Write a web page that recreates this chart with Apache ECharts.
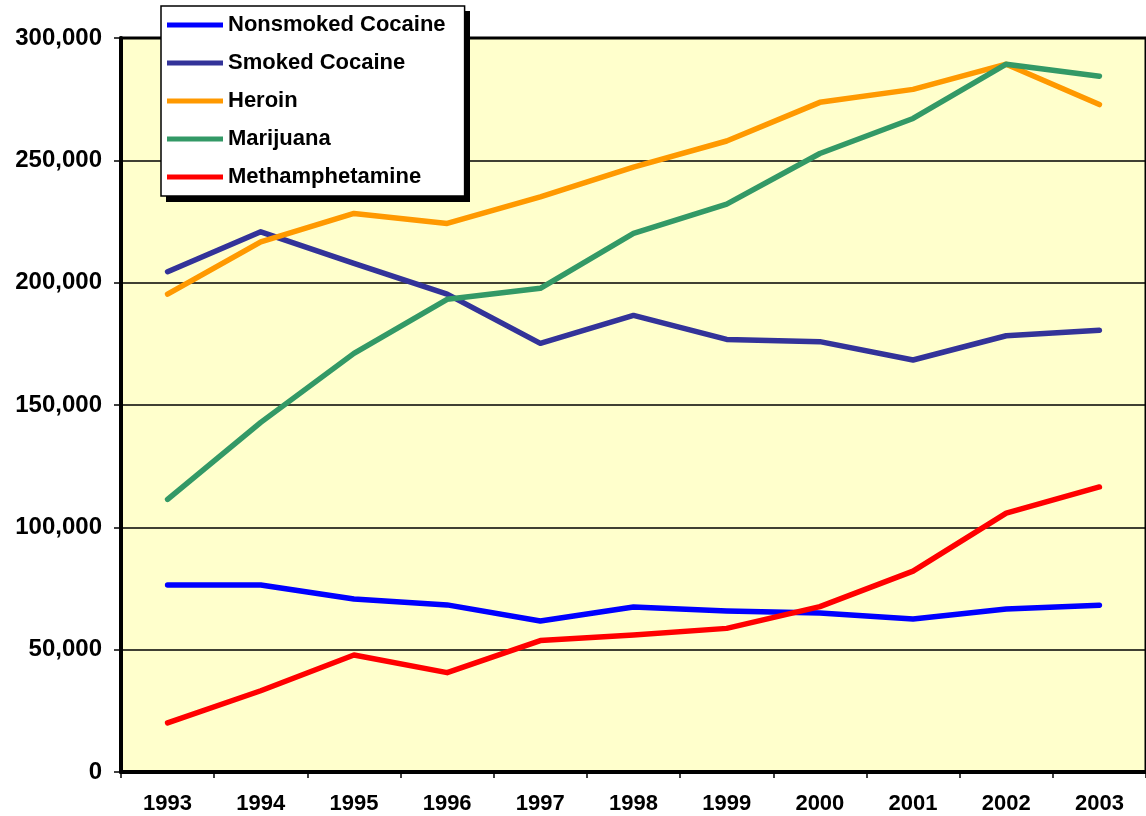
<!DOCTYPE html>
<html>
<head>
<meta charset="utf-8">
<script src="https://cdn.jsdelivr.net/npm/echarts@6/dist/echarts.min.js"></script>
<style>
  html, body { margin: 0; padding: 0; background: #fff; }
  #chart { width: 1146px; height: 816px; }
</style>
</head>
<body>
<div id="chart"></div>
<script>
// years on the x axis
var years = ['1993', '1994', '1995', '1996', '1997', '1998', '1999', '2000', '2001', '2002', '2003'];

// values
var nonsmokedCocaine = [76400, 76400, 70700, 68300, 61700, 67400, 65800, 65000, 62500, 66600, 68200];
var smokedCocaine    = [204500, 220800, 207900, 195300, 175200, 186600, 176800, 175900, 168400, 178300, 180600];
var heroin           = [195300, 216700, 228300, 224200, 235100, 247200, 257900, 273700, 279000, 289300, 272800];
var marijuana        = [111400, 142900, 171100, 193200, 197700, 220100, 232100, 252800, 267100, 289300, 284400];
var meth             = [20100, 33200, 47800, 40600, 53700, 56000, 58700, 67600, 82100, 105800, 116500];

var yTicks = { min: 0, max: 300000, step: 50000 };

var seriesNames = ['Nonsmoked Cocaine', 'Smoked Cocaine', 'Heroin', 'Marijuana', 'Methamphetamine'];
var seriesColors = ['#0000FF', '#333399', '#FF9900', '#339966', '#FF0000'];
var seriesData = [nonsmokedCocaine, smokedCocaine, heroin, marijuana, meth];

var font = 'Liberation Sans, Arial, sans-serif';

var chart = echarts.init(document.getElementById('chart'));

var series = seriesNames.map(function (name, i) {
  return {
    name: name,
    type: 'line',
    data: seriesData[i],
    symbol: 'none',
    color: seriesColors[i],
    lineStyle: { width: 5.5, color: seriesColors[i], cap: 'round', join: 'round' },
    z: 3
  };
});

chart.setOption({
  animation: false,
  backgroundColor: '#ffffff',
  grid: {
    left: 121, top: 38, width: 1035, height: 734,
    show: true,
    backgroundColor: '#FFFFCC',
    borderColor: '#000000',
    borderWidth: 3
  },
  // drop shadow behind the legend box
  graphic: [{
    type: 'rect',
    left: 166, top: 11,
    shape: { width: 304, height: 191 },
    style: { fill: '#000000' },
    z: 10
  }],
  legend: {
    data: seriesNames,
    orient: 'vertical',
    left: 161, top: 6,
    icon: 'rect',
    itemWidth: 56, itemHeight: 5,
    itemGap: 14,
    padding: [7, 19, 7, 6],
    backgroundColor: '#ffffff',
    borderColor: '#000000',
    borderWidth: 1.5,
    z: 20,
    textStyle: { fontFamily: font, fontWeight: 'bold', fontSize: 22, color: '#000', lineHeight: 24 }
  },
  xAxis: {
    type: 'category',
    data: years,
    boundaryGap: true,
    axisLine: { lineStyle: { color: '#000', width: 4 } },
    axisTick: { show: true, interval: 0, length: 6, lineStyle: { color: '#000', width: 1.5 } },
    axisLabel: { margin: 21, fontFamily: font, fontWeight: 'bold', fontSize: 22, color: '#000' },
    splitLine: { show: false }
  },
  yAxis: {
    type: 'value',
    min: yTicks.min, max: yTicks.max, interval: yTicks.step,
    axisLine: { show: true, lineStyle: { color: '#000', width: 4 } },
    axisTick: { show: true, length: 7, lineStyle: { color: '#000', width: 1.5 } },
    axisLabel: {
      margin: 19, fontFamily: font, fontWeight: 'bold', fontSize: 24, color: '#000',
      formatter: function (v) { return v.toLocaleString('en-US'); }
    },
    splitLine: { show: true, lineStyle: { color: '#000', width: 1.5 } }
  },
  series: series
});
</script>
</body>
</html>
